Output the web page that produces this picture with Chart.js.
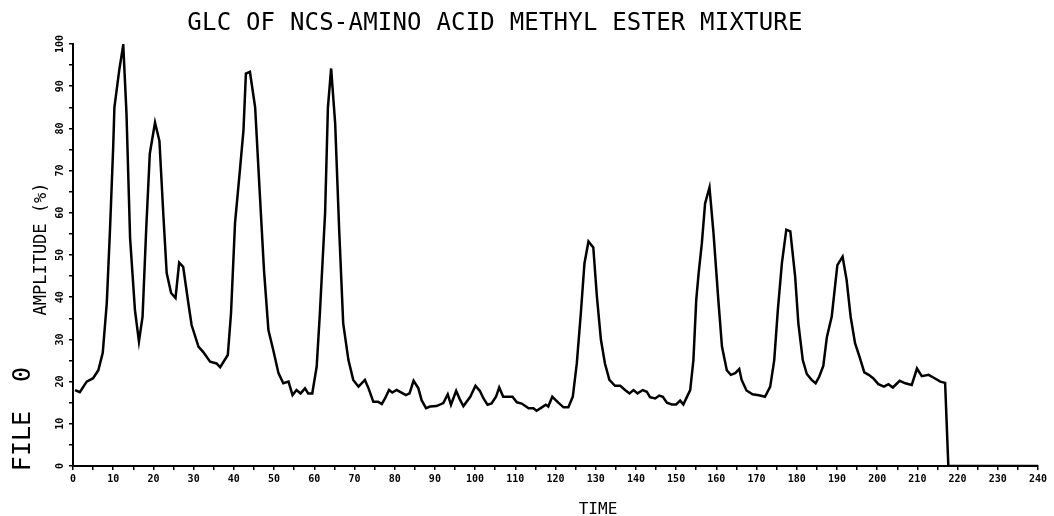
<!DOCTYPE html>
<html>
<head>
<meta charset="utf-8">
<script src="https://cdn.jsdelivr.net/npm/chart.js@4"></script>
<style>
  body { margin:0; background:#fff; }
  #wrap { position:relative; width:1054px; height:516px; }
  .lbl { position:absolute; font-family:"DejaVu Sans Mono", monospace; color:#000; white-space:nowrap; }
  #title { left:0; width:990px; top:8px; text-align:center; font-size:24px; letter-spacing:0.2px; }
  #ylab { left:40px; top:249px; font-size:17px; transform:translate(-50%,-50%) rotate(-90deg); }
  #file { left:21px; top:419px; font-size:25px; word-spacing:14px; transform:translate(-50%,-50%) rotate(-90deg); }
  #xlab { left:598px; top:508px; font-size:16px; transform:translate(-50%,-50%); }
</style>
</head>
<body>
<div id="wrap">
  <canvas id="c" width="1054" height="516"></canvas>
  <div class="lbl" id="title">GLC OF NCS-AMINO ACID METHYL ESTER MIXTURE</div>
  <div class="lbl" id="ylab">AMPLITUDE (%)</div>
  <div class="lbl" id="file">FILE 0</div>
  <div class="lbl" id="xlab">TIME</div>
</div>
<script>
// ── Data ──────────────────────────────────────────────────
const times = [0.5,1.7,3.4,5,6.3,7.4,8.4,9.2,10,10.3,11.5,12.5,13.3,14.2,15.4,16.4,17.3,18.2,19.1,20.4,
  21.5,22.5,23.3,24.4,25.5,26.4,27.4,28.7,29.5,31.2,32.4,34.1,35.7,36.6,38.5,39.3,40.3,41.5,42.4,43,
  44,45.3,46.5,47.5,48.6,49.8,51.1,52.3,53.6,54.6,55.6,56.6,57.7,58.5,59.5,60.6,61.4,62.7,63.4,64.2,
  65.2,66.2,67.2,68.5,69.7,71,72.6,73.5,74.7,75.9,76.8,77.6,78.6,79.4,80.5,81.7,82.8,83.7,84.7,85.9,
  86.7,87.8,88.8,90.4,92.1,93.2,94,95.3,96.3,97.1,98.8,100.1,101.2,102.1,103.1,104.1,105.2,106,107,108.3,
  109.3,110.4,111.6,113.3,114.5,115.3,116.6,117.6,118.2,119.2,120.7,122,123.2,124.3,125.3,126.3,127.2,128.2,129.4,130.3,
  131.3,132.3,133.4,134.8,136.1,137.3,138.4,139.4,140.4,141.7,142.7,143.5,144.8,145.8,146.7,147.7,148.9,150,151,151.8,
  153.5,154.3,155,155.6,156.4,157.2,158.3,159.3,160.5,161.4,162.6,163.6,164.7,165.7,166.3,167.5,169,170.9,172.1,173.4,
  174.4,175.3,176.3,177.4,178.4,179.6,180.4,181.5,182.5,183.7,184.7,185.6,186.6,187.5,188.7,189.6,190.1,191.4,192.4,193.4,
  194.5,195.6,196.8,197.9,199,200.3,201.7,202.8,203.9,205.6,207,208.6,209.9,211.1,212.8,214.3,215.7,216.9,217.7,240];
const amplitude = [18,17.5,20,20.8,22.7,26.8,38.6,56,75.7,85,93.8,99.8,83.6,54,37,29.5,35.4,56,74,81.4,
  77,59,45.7,41,39.8,48.2,47.2,38.5,33.4,28.3,27,24.7,24.3,23.4,26.3,36.2,57.6,70,79.6,93,
  93.4,85,63.8,46.4,32.2,27.5,22,19.6,20,16.8,18,17.2,18.4,17.2,17.2,23.5,36.2,60,85,94.2,
  81.2,56,33.8,25.1,20.4,18.8,20.4,18.4,15.2,15.2,14.7,16,18,17.4,18,17.4,16.8,17.2,20.2,18.4,
  15.6,13.7,14.1,14.2,14.9,17,14.5,17.8,15.6,14.2,16.4,19,17.8,16,14.5,14.8,16.4,18.6,16.4,16.4,
  16.4,15.1,14.8,13.7,13.7,13.1,13.9,14.5,14.1,16.4,15,13.9,13.9,16.4,24.3,36.2,48,53.2,51.8,40.1,
  29.9,24.3,20.4,19,19,18,17.2,18,17.2,18,17.6,16.3,16,16.7,16.4,15,14.6,14.6,15.5,14.6,
  18,25.1,39.3,45.7,52.8,62.2,66,55.1,39.3,28.3,22.7,21.6,22,23,20.4,17.9,17,16.7,16.4,18.8,
  25.1,37,48,56,55.6,44.9,33.8,25.1,21.8,20.4,19.6,21.2,23.7,30.6,35.4,43.3,47.6,49.6,44.1,35.4,
  29.1,25.9,22.2,21.6,20.8,19.4,18.8,19.4,18.6,20.2,19.6,19.2,23.1,21.3,21.6,20.8,20,19.7,0,0];

const xTicks = [0,10,20,30,40,50,60,70,80,90,100,110,120,130,140,150,160,170,180,190,200,210,220,230,240];
const yTicks = [0,10,20,30,40,50,60,70,80,90,100];

// ── Tick labels drawn against the scales ──────────────────
const tickLabels = {
  id: 'tickLabels',
  afterDraw(chart) {
    const ctx = chart.ctx, xs = chart.scales.x, ys = chart.scales.y;
    ctx.save();
    ctx.fillStyle = '#000';
    ctx.font = 'bold 10px "DejaVu Sans Mono"';
    ctx.textAlign = 'center';
    ctx.textBaseline = 'middle';
    xTicks.forEach(v => ctx.fillText(String(v), xs.getPixelForValue(v), 479));
    yTicks.forEach(v => {
      ctx.save();
      ctx.translate(60, ys.getPixelForValue(v));
      ctx.rotate(-Math.PI / 2);
      ctx.fillText(String(v), 0, 0);
      ctx.restore();
    });
    ctx.restore();
  }
};

const axisStyle = {
  grid: { display:true, drawOnChartArea:false, drawTicks:true, tickLength:4, color:'#000', lineWidth:1.5 },
  border: { display:true, color:'#000', width:2 },
  ticks: { display:false, stepSize:5 }
};

new Chart(document.getElementById('c'), {
  type: 'line',
  data: {
    datasets: [{
      data: times.map((t, i) => ({ x: t, y: amplitude[i] })),
      borderColor: '#000', borderWidth: 2.5, pointRadius: 0, tension: 0, fill: false
    }]
  },
  options: {
    responsive: false, animation: false,
    layout: { padding: { left:69, right:16, top:44, bottom:46 } },
    plugins: { legend:{display:false}, tooltip:{enabled:false} },
    scales: {
      x: { type:'linear', min:0, max:240, ...axisStyle, afterFit: s => { s.height = 4; } },
      y: { type:'linear', min:0, max:100, ...axisStyle, afterFit: s => { s.width = 4; } }
    }
  },
  plugins: [tickLabels]
});
</script>
</body>
</html>
